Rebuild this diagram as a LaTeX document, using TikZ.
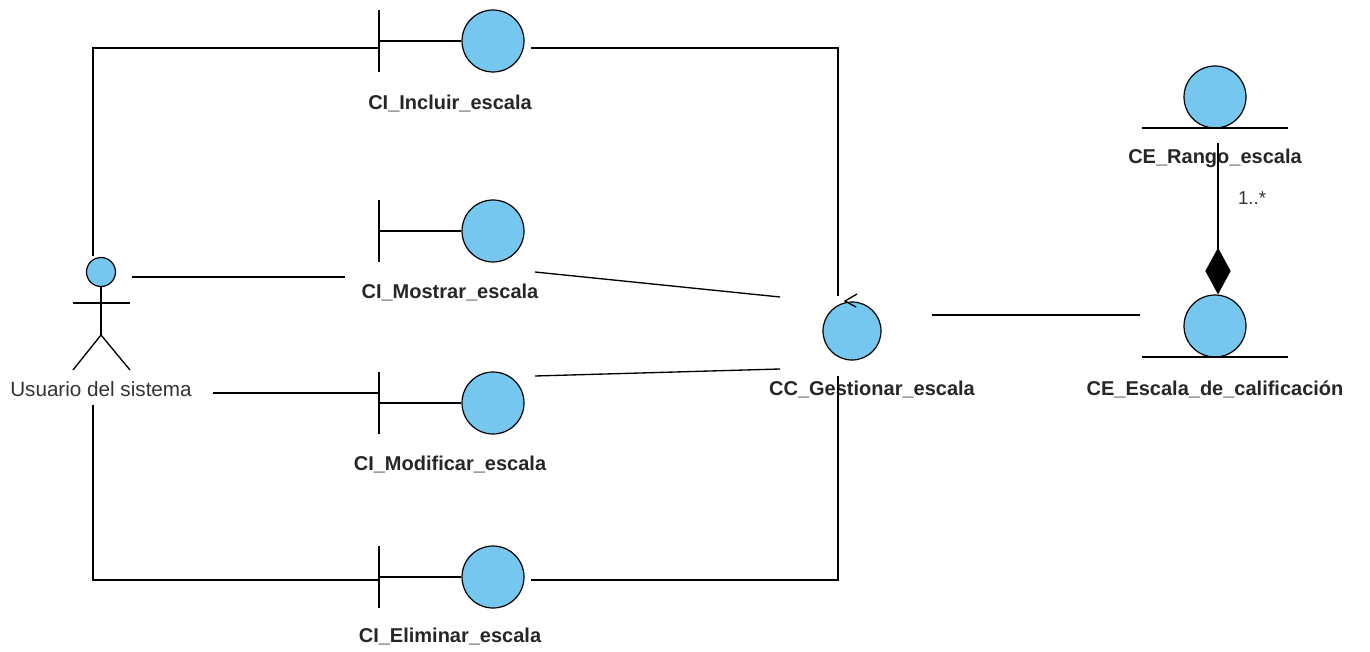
\documentclass[tikz,border=0pt]{standalone}
\usepackage{fontspec}
\setmainfont{Liberation Sans}
\usetikzlibrary{arrows.meta}
\definecolor{ifill}{RGB}{118,199,240}
\begin{document}
\begin{tikzpicture}[x=0.75pt,y=-0.75pt,
  ball/.style={circle,draw=black,fill=ifill,line width=0.9pt,minimum size=46.5pt,inner sep=0pt},
  head/.style={circle,draw=black,fill=ifill,line width=0.9pt,minimum size=21.75pt,inner sep=0pt},
  lbl/.style={font=\bfseries\fontsize{15}{18}\selectfont,inner sep=0pt,text=black!85},
  plain/.style={font=\fontsize{15.5}{18}\selectfont,inner sep=0pt,text=black!80},
  conn/.style={line width=1pt},
  icon/.style={line width=1pt},
]
\useasboundingbox (0,0) rectangle (1370,652);

% ---------- Actor ----------
\node[head] (act) at (101,272) {};
\draw[icon] (act.south) -- (101,335) coordinate (hip);
\draw[icon] (73,303) -- (130,303);
\draw[icon] (hip) -- (73,370);
\draw[icon] (hip) -- (130,370);
\node[plain] (actl) at (101,389) {Usuario del sistema};

% ---------- Boundaries ----------
\foreach \nm/\y/\ly/\txt in {inc/41/103/Incluir, mos/231/292/Mostrar, mod/403/464/Modificar, eli/577/636/Eliminar}{
  \node[ball] (\nm) at (493,\y) {};
  \coordinate (\nm bar) at (379,\y);
  \draw[icon] (\nm bar) ++(0,-31) -- ++(0,62);
  \draw[icon] (\nm bar) -- (\nm.west);
  \node[lbl] (\nm l) at (450,\ly) {CI\_\txt\_escala};
}

% ---------- Control ----------
\node[ball,minimum size=43.5pt] (ctl) at (852,331) {};
\draw[icon] (857,294) -- (845,301) -- (856,307);
\node[lbl] (ctll) at (872,389) {CC\_Gestionar\_escala};

% ---------- Entities ----------
\node[ball] (rng) at (1215,97) {};
\draw[icon] (1142,128) -- (1288,128);
\node[lbl] (rngl) at (1215,158) {CE\_Rango\_escala};

\node[ball] (esc) at (1215,326) {};
\draw[icon] (1142,357) -- (1288,357);
\node[lbl] (escl) at (1215,389) {CE\_Escala\_de\_calificación};

% ---------- Connectors ----------
\coordinate (a1) at (93,256);
\coordinate (a2) at (132,277);
\coordinate (a3) at (213,393);
\coordinate (a4) at (93,405);
\coordinate (c1) at (838,296);
\coordinate (c2) at (780,297);
\coordinate (c3) at (780,369);
\coordinate (c4) at (838,376);
\coordinate (c5) at (932,315);
\coordinate (e1) at (1140,315);

\draw[conn] (a1) |- (incbar |- 0,48);
\draw[conn] (531,48) -| (c1);
\draw[conn] (a2) -- (345,277);
\draw[conn] (535,272) -- (c2);
\draw[conn] (a3) -- (modbar |- 0,393);
\draw[conn] (535,376) -- (c3);
\draw[conn] (a4) |- (elibar |- 0,580);
\draw[conn] (531,580) -| (c4);
\draw[conn] (c5) -- (e1);

% composition
\draw[conn,{Diamond[length=35pt,width=19pt]}-] (esc.north) ++(3,0) coordinate (dtip) -- (dtip |- 0,143);
\node[font=\fontsize{14}{16}\selectfont,text=black!80] (mult) at (1252,198) {1..*};
\end{tikzpicture}
\end{document}
